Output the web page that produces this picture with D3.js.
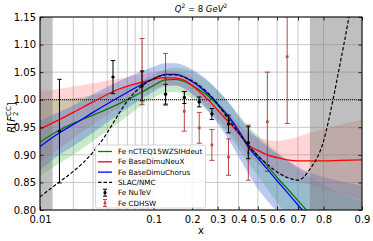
<!DOCTYPE html>
<html><head><meta charset="utf-8">
<script src="https://cdn.jsdelivr.net/npm/d3@7"></script>
<style>body{margin:0;background:#fff} svg{display:block} text{font-family:"DejaVu Sans",sans-serif}</style>
</head><body>
<svg id="chart" width="373" height="241"></svg>
<script>
// ---- data ----
const xGrid   = [0.01,0.015,0.02,0.03,0.05,0.08,0.1,0.125,0.15,0.175,0.2,0.225,0.25,0.275,0.3,0.35,0.4,0.45,0.5,0.55,0.6,0.65,0.7,0.75,0.8,0.85,0.9];
const greenMid = [0.923,0.945,0.957,0.972,0.992,1.014,1.026,1.036,1.037,1.033,1.026,1.018,1.010,1.001,0.991,0.968,0.944,0.918,0.899,0.880,0.859,0.839,0.817,0.793,0.765,0.730,0.690];
const greenLo  = [0.862,0.885,0.900,0.925,0.958,0.990,1.004,1.012,1.014,1.010,1.002,0.993,0.982,0.972,0.960,0.937,0.910,0.885,0.862,0.838,0.814,0.790,0.765,0.740,0.710,0.680,0.640];
const greenHi  = [0.998,1.000,1.003,1.008,1.018,1.035,1.045,1.055,1.058,1.056,1.051,1.044,1.036,1.027,1.017,0.996,0.973,0.952,0.935,0.920,0.905,0.890,0.875,0.860,0.845,0.830,0.815];
const redMid   = [0.947,0.964,0.977,0.996,1.019,1.032,1.037,1.040,1.039,1.035,1.026,1.015,1.004,0.993,0.981,0.960,0.939,0.918,0.908,0.900,0.895,0.891,0.889,0.889,0.889,0.890,0.891];
const redLo    = [0.885,0.912,0.930,0.955,0.985,1.012,1.020,1.026,1.026,1.021,1.012,1.000,0.990,0.978,0.966,0.944,0.920,0.899,0.885,0.873,0.863,0.858,0.852,0.846,0.838,0.829,0.818];
const redHi    = [1.016,1.020,1.024,1.030,1.038,1.046,1.050,1.053,1.052,1.048,1.040,1.030,1.018,1.008,0.996,0.976,0.957,0.940,0.932,0.927,0.925,0.928,0.933,0.940,0.947,0.955,0.964];
const blueMid  = [0.915,0.940,0.955,0.977,1.004,1.028,1.038,1.046,1.046,1.041,1.033,1.024,1.014,1.004,0.992,0.970,0.944,0.914,0.894,0.874,0.853,0.832,0.809,0.784,0.755,0.720,0.680];
const blueLo   = [0.872,0.900,0.916,0.940,0.973,1.002,1.015,1.025,1.026,1.020,1.010,0.998,0.985,0.972,0.957,0.928,0.897,0.866,0.838,0.817,0.797,0.775,0.750,0.720,0.690,0.650,0.600];
const blueHi   = [0.962,0.978,0.990,1.010,1.033,1.052,1.060,1.066,1.066,1.062,1.055,1.047,1.038,1.028,1.017,0.995,0.970,0.948,0.930,0.915,0.902,0.890,0.878,0.868,0.860,0.852,0.845];
const slacX = [0.01,0.015,0.02,0.03,0.04,0.05,0.06,0.08,0.1,0.125,0.15,0.175,0.2,0.225,0.25,0.275,0.3,0.35,0.4,0.45,0.5,0.55,0.6,0.65,0.7,0.75,0.8,0.83,0.85,0.87,0.9];
const slacY = [0.824,0.851,0.870,0.905,0.940,0.973,0.998,1.025,1.038,1.045,1.045,1.041,1.034,1.026,1.016,1.005,0.992,0.964,0.940,0.917,0.898,0.883,0.869,0.859,0.854,0.874,0.925,1.000,1.065,1.140,1.300];
const nutevX   = [0.015,0.045,0.08,0.125,0.175,0.225,0.275,0.35,0.45];
const nutevY   = [0.943,1.041,1.025,1.010,1.004,0.996,0.974,0.956,0.922];
const nutevErr = [0.094,0.030,0.027,0.018,0.011,0.009,0.010,0.016,0.029];
const cdhswX   = [0.08,0.125,0.175,0.225,0.275,0.35,0.45,0.55,0.65];
const cdhswY   = [1.051,1.037,0.979,0.949,0.918,0.896,0.904,0.960,1.078];
const cdhswErr = [0.060,0.047,0.036,0.028,0.028,0.033,0.050,0.090,0.121];
const xTicks = [0.01,0.1,0.2,0.3,0.4,0.5,0.6,0.7,0.8,0.9];
const xTickLabels = ["0.01","0.1","0.2","0.3","0.4","0.5","0.6","0.7","0.8","0.9"];
const xMinor = [0.02,0.03,0.04,0.05,0.06,0.07,0.08,0.09];
const yTicks = [0.80,0.85,0.90,0.95,1.00,1.05,1.10,1.15];
const grayRegions = [[0.01,0.013],[0.75,0.9]];
const legendLabels = ["Fe nCTEQ15WZSIHdeut","Fe BaseDimuNeuX","Fe BaseDimuChorus","SLAC/NMC","Fe NuTeV","Fe CDHSW"];

// ---- scales ----
const L = 40, R = 362, T = 17, B = 210;
const logit = v => Math.log10(v/(1-v));
const xLin = d3.scaleLinear().domain([logit(0.01), logit(0.9)]).range([L, R]);
const X = v => xLin(logit(v));
const Y = d3.scaleLinear().domain([0.80, 1.15]).range([B, T]);

const svg = d3.select("#chart");
svg.append("defs").append("clipPath").attr("id","clip")
  .append("rect").attr("x",L).attr("y",T).attr("width",R-L).attr("height",B-T);

// grid
const grid = svg.append("g").attr("stroke","#c2c2c2").attr("stroke-width",0.9);
xTicks.concat(xMinor).forEach(v => grid.append("line").attr("x1",X(v)).attr("x2",X(v)).attr("y1",T).attr("y2",B));
yTicks.forEach(v => grid.append("line").attr("x1",L).attr("x2",R).attr("y1",Y(v)).attr("y2",Y(v)));

const plot = svg.append("g").attr("clip-path","url(#clip)");

// bands
const area = (lo,hi) => d3.area().x((d,i)=>X(xGrid[i])).y0((d,i)=>Y(lo[i])).y1((d,i)=>Y(hi[i])).curve(d3.curveMonotoneX)(xGrid);
plot.append("path").attr("d",area(greenLo,greenHi)).attr("fill","#3cb043").attr("opacity",0.28);
plot.append("path").attr("d",area(redLo,redHi)).attr("fill","#ff4040").attr("opacity",0.22);
plot.append("path").attr("d",area(blueLo,blueHi)).attr("fill","#3f68d8").attr("opacity",0.35);

// gray regions
grayRegions.forEach(([a,b]) => plot.append("rect").attr("x",X(a)).attr("width",X(b)-X(a)).attr("y",T).attr("height",B-T).attr("fill","#808080").attr("opacity",0.5));

// 1.0 reference
plot.append("line").attr("x1",L).attr("x2",R).attr("y1",Y(1)).attr("y2",Y(1)).attr("stroke","#000").attr("stroke-width",1.1).attr("stroke-dasharray","1,1");

// lines
const line = (xs,ys) => d3.line().x((d,i)=>X(xs[i])).y((d,i)=>Y(ys[i])).curve(d3.curveMonotoneX)(xs);
plot.append("path").attr("d",line(xGrid,greenMid)).attr("fill","none").attr("stroke","#008000").attr("stroke-width",1.3);
plot.append("path").attr("d",line(xGrid,redMid)).attr("fill","none").attr("stroke","#ff0000").attr("stroke-width",1.3);
plot.append("path").attr("d",line(xGrid,blueMid)).attr("fill","none").attr("stroke","#0000ff").attr("stroke-width",1.3);
plot.append("path").attr("d",line(slacX,slacY)).attr("fill","none").attr("stroke","#000").attr("stroke-width",1.2).attr("stroke-dasharray","3.5,2");

// error bars
function errbar(g, x, y, e, color, op, cap, marker){
  const gg = g.append("g").attr("opacity",op);
  gg.append("line").attr("x1",x).attr("x2",x).attr("y1",Y(y-e)).attr("y2",Y(y+e)).attr("stroke",color).attr("stroke-width",1);
  [y-e,y+e].forEach(v=>gg.append("line").attr("x1",x-cap).attr("x2",x+cap).attr("y1",Y(v)).attr("y2",Y(v)).attr("stroke",color).attr("stroke-width",1));
  if(marker==="sq") gg.append("rect").attr("x",x-1.3).attr("y",Y(y)-1.3).attr("width",2.6).attr("height",2.6).attr("fill",color);
  else gg.append("circle").attr("cx",x).attr("cy",Y(y)).attr("r",1.7).attr("fill",color);
}
cdhswX.forEach((v,i)=>errbar(plot, X(v), cdhswY[i], cdhswErr[i], "#a82828", 0.85, 2.5, "sq"));
nutevX.forEach((v,i)=>errbar(plot, X(v), nutevY[i], nutevErr[i], "#000", 1, 2.2, "c"));

// axes (inward ticks)
const fmtY = d3.format(".2f");
const ax = svg.append("g").attr("font-size",7);
ax.append("g").attr("transform",`translate(0,${B})`)
  .call(d3.axisBottom(xLin).tickValues(xTicks.map(logit)).tickFormat((d,i)=>xTickLabels[i]).tickSize(-3.5).tickPadding(6));
ax.append("g").attr("transform",`translate(${L},0)`)
  .call(d3.axisLeft(Y).tickValues(yTicks).tickFormat(fmtY).tickSize(-3.5).tickPadding(4));
ax.append("g").attr("transform",`translate(0,${T})`)
  .call(d3.axisTop(xLin).tickValues(xTicks.map(logit)).tickFormat("").tickSize(-3.5));
ax.append("g").attr("transform",`translate(${R},0)`)
  .call(d3.axisRight(Y).tickValues(yTicks).tickFormat("").tickSize(-3.5));
ax.selectAll(".domain").remove();
ax.selectAll("text").attr("font-family","DejaVu Sans").attr("fill","#000");
ax.selectAll(".tick line").attr("stroke","#000").attr("stroke-width",0.8);
svg.append("rect").attr("x",L).attr("y",T).attr("width",R-L).attr("height",B-T).attr("fill","none").attr("stroke","#000").attr("stroke-width",1);

// title
const title = svg.append("text").attr("x",(L+R)/2).attr("y",11.5).attr("text-anchor","middle").attr("font-size",8.5).attr("font-style","italic");
title.append("tspan").text("Q");
title.append("tspan").text("2").attr("font-size",6).attr("dy",-3.5).attr("font-style","normal");
title.append("tspan").text(" = 8 ").attr("dy",3.5).attr("font-style","normal");
title.append("tspan").text("GeV");
title.append("tspan").text("2").attr("font-size",6).attr("dy",-3.5).attr("font-style","normal");

// x label
svg.append("text").attr("x",(L+R)/2).attr("y",234).attr("text-anchor","middle").attr("font-size",10).text("x");

// y label
const yl = svg.append("text").attr("transform",`translate(15,${(T+B)/2+4}) rotate(-90)`).attr("text-anchor","middle").attr("font-size",10);
yl.append("tspan").text("R").attr("font-style","italic");
yl.append("tspan").text("[");
yl.append("tspan").text("F").attr("font-style","italic");
yl.append("tspan").text("2").attr("font-size",7).attr("dy",2.5);
yl.append("tspan").text("CC").attr("font-size",7).attr("dx",-4.4).attr("dy",-7);
yl.append("tspan").text("]").attr("dy",4.5);

// legend
const lg = svg.append("g").attr("font-size",7.2);
lg.append("rect").attr("x",95.5).attr("y",145).attr("width",110).attr("height",63).attr("rx",2).attr("fill","#fff").attr("fill-opacity",0.8).attr("stroke","#cccccc").attr("stroke-width",0.8);
const ly0 = 151.5, dy = 10.3;
const lineStyles = [["#008000",null],["#ff0000",null],["#0000ff",null],["#000","3.5,2"]];
lineStyles.forEach(([c,da],i)=>{
  const l = lg.append("line").attr("x1",98).attr("x2",112).attr("y1",ly0+i*dy).attr("y2",ly0+i*dy).attr("stroke",c).attr("stroke-width",1.3);
  if(da) l.attr("stroke-dasharray",da);
});
function legErr(cx, cy, color, op, marker){
  const g = lg.append("g").attr("opacity",op);
  g.append("line").attr("x1",cx).attr("x2",cx).attr("y1",cy-3.5).attr("y2",cy+3.5).attr("stroke",color);
  [cy-3.5,cy+3.5].forEach(v=>g.append("line").attr("x1",cx-2).attr("x2",cx+2).attr("y1",v).attr("y2",v).attr("stroke",color));
  if(marker==="sq") g.append("rect").attr("x",cx-1.3).attr("y",cy-1.3).attr("width",2.6).attr("height",2.6).attr("fill",color);
  else g.append("circle").attr("cx",cx).attr("cy",cy).attr("r",1.6).attr("fill",color);
}
legErr(105, ly0+4*dy, "#000", 1, "c");
legErr(105, ly0+5*dy, "#a82828", 0.85, "sq");
legendLabels.forEach((t,i)=>lg.append("text").attr("x",118).attr("y",ly0+i*dy+2.6).text(t));
</script>
</body></html>
